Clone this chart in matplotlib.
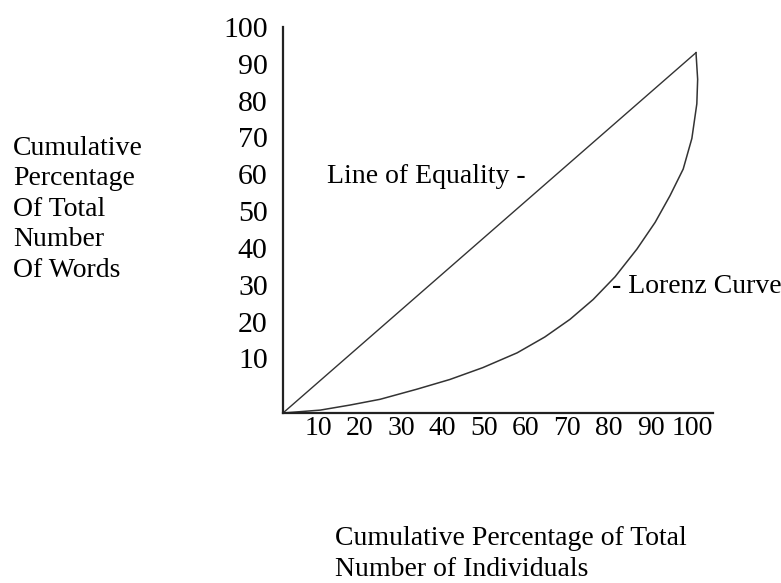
import matplotlib
matplotlib.use("Agg")
import matplotlib.pyplot as plt

# data (percent)
equality_x = [0, 100]
equality_y = [0, 100]
lorenz_x = [0, 9.0, 16.2, 23.5, 32.4, 40.4, 48.4, 56.7, 63.4, 69.5, 75.1, 80.4,
            85.7, 90.1, 93.7, 96.9, 99.0, 100.2, 100.4, 100]
lorenz_y = [0, 0.8, 2.2, 3.8, 6.6, 9.3, 12.6, 16.7, 21.1, 26.0, 31.5, 37.8,
            45.5, 52.9, 60.3, 67.7, 76.2, 85.8, 92.6, 100]
x_tick_labels = [10, 20, 30, 40, 50, 60, 70, 80, 90, 100]
y_tick_labels = [10, 20, 30, 40, 50, 60, 70, 80, 90, 100]
y_title_lines = ["Cumulative", "Percentage", "Of Total", "Number", "Of Words"]
x_title_lines = ["Cumulative Percentage of Total", "Number of Individuals"]

W, H = 781, 583
FONT = "Liberation Serif"
FS = 20
plt.rcParams["font.family"] = FONT

# layout in pixels
ox, oy = 283, 413          # origin
sx, sy = 4.13, 3.65        # pixels per percent
x_end, y_top = 713, 27


def fx(px):
    return px / W


def fy(py):
    return 1 - py / H


fig = plt.figure(figsize=(W / 100, H / 100), dpi=100)
ax = fig.add_axes([fx(ox), fy(oy), (x_end - ox) / W, (oy - y_top) / H])
ax.set_xlim(0, (x_end - ox) / sx)
ax.set_ylim(0, (oy - y_top) / sy)

ax.plot(equality_x, equality_y, color="#333333", lw=1.0, clip_on=False)
ax.plot(lorenz_x, lorenz_y, color="#333333", lw=1.1, clip_on=False,
        solid_joinstyle="round")

for s in ["top", "right"]:
    ax.spines[s].set_visible(False)
for s in ["left", "bottom"]:
    ax.spines[s].set_linewidth(1.6)
    ax.spines[s].set_color("#222222")

# tick labels sit where the original hand-placed them
xt = [(318 + 4.156 * (v - 10) - ox) / sx for v in x_tick_labels]
yt = [(oy - (22 + 3.73 * (100 - v))) / sy for v in y_tick_labels]
ax.set_xticks(xt, [str(v) for v in x_tick_labels])
ax.set_yticks(yt, [str(v) for v in y_tick_labels])
ax.tick_params(axis="both", length=0)
ax.tick_params(axis="x", pad=2, labelsize=FS)
ax.tick_params(axis="y", pad=11, labelsize=FS + 1.5)

for i, line in enumerate(y_title_lines):
    fig.text(fx(13), fy(155 + 30.5 * i), line, fontsize=FS, va="baseline", ha="left")

for i, line in enumerate(x_title_lines):
    fig.text(fx(335), fy(545 + 31 * i), line, fontsize=FS, va="baseline", ha="left")

fig.text(fx(327), fy(183), "Line of Equality -", fontsize=FS, va="baseline", ha="left")
fig.text(fx(612), fy(293), "- Lorenz Curve", fontsize=FS, va="baseline", ha="left")

fig.savefig("out.png", dpi=100)
